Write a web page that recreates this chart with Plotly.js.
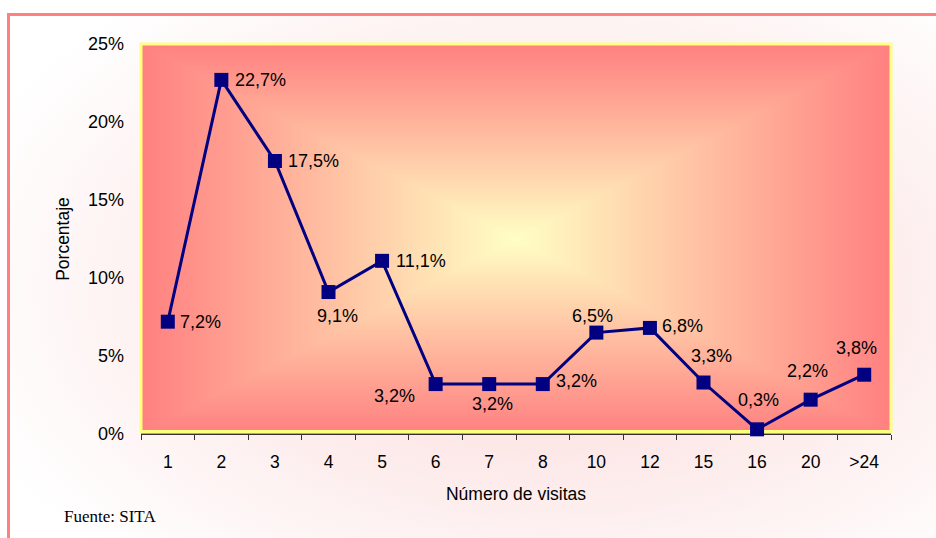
<!DOCTYPE html>
<html>
<head>
<meta charset="utf-8">
<script src="https://cdn.plot.ly/plotly-3.0.1.min.js"></script>
<style>
html,body{margin:0;padding:0;width:936px;height:538px;overflow:hidden;background:#ffffff;}
#bg{position:absolute;left:7px;top:13px;width:1000px;height:620px;box-sizing:border-box;
  border-top:3px solid #FF8080;border-left:3px solid #FF8080;
  background:radial-gradient(ellipse 62% 62% at 54% 44%, #fcd6d6 0%, #fde9e9 45%, #ffffff 100%);}
#chart{position:absolute;left:0;top:0;width:936px;height:538px;}
</style>
</head>
<body>
<div id="bg"></div>
<div id="chart"></div>
<script>
// ---- data ----
const categories = ['1','2','3','4','5','6','7','8','10','12','15','16','20','>24'];
const percentages = [7.2, 22.7, 17.5, 9.1, 11.1, 3.2, 3.2, 3.2, 6.5, 6.8, 3.3, 0.3, 2.2, 3.8];
const yTickValues = [0, 5, 10, 15, 20, 25];
const yTickLabels = ['0%', '5%', '10%', '15%', '20%', '25%'];
const xAxisTitle = 'Número de visitas';
const yAxisTitle = 'Porcentaje';
const sourceNote = 'Fuente: SITA';

// ---- label placement (px offsets from each marker) ----
const labelOffsets = [[33,0],[39.5,0],[39,0],[9,-24],[39,0],[-41,-12],[3,-20],[34,3],[-4,17],[33,2],[8,27],[1.5,29],[-3,29],[-8,27]];

function fmt(v){ return v.toFixed(1).replace('.', ',') + '%'; }

function rectGradient(w, h, c0, c1){
  const cv = document.createElement('canvas');
  cv.width = w; cv.height = h;
  const ctx = cv.getContext('2d');
  const img = ctx.createImageData(w, h);
  const hw = w/2, hh = h/2;
  for (let y = 0; y < h; y++){
    for (let x = 0; x < w; x++){
      let t = Math.max(Math.abs(x + 0.5 - hw)/hw, Math.abs(y + 0.5 - hh)/hh);
      t = Math.min(1, t);
      const i = (y*w + x)*4;
      img.data[i]   = Math.round(c0[0] + (c1[0]-c0[0])*t);
      img.data[i+1] = Math.round(c0[1] + (c1[1]-c0[1])*t);
      img.data[i+2] = Math.round(c0[2] + (c1[2]-c0[2])*t);
      img.data[i+3] = 255;
    }
  }
  ctx.putImageData(img, 0, 0);
  return cv.toDataURL('image/png');
}

const font = 'Liberation Sans, Arial, sans-serif';
const plotBg = rectGradient(750, 390, [255,255,196], [255,128,128]);

const trace = {
  x: categories,
  y: percentages,
  type: 'scatter',
  mode: 'lines+markers',
  line: {color: '#000080', width: 3},
  marker: {symbol: 'square', size: 14, color: '#000080'},
  hoverinfo: 'none',
  cliponaxis: false
};

// category axis: annotations use the category index as x
const annotations = percentages.map((v, i) => ({
  x: i, y: v, xref: 'x', yref: 'y',
  text: fmt(v), showarrow: false,
  xshift: labelOffsets[i][0], yshift: labelOffsets[i][1],
  xanchor: 'center', yanchor: 'middle',
  font: {family: font, size: 18, color: '#000000'}
}));
annotations.push({
  xref: 'paper', yref: 'paper', x: (62-141)/750, y: (434-516)/390,
  xanchor: 'left', yanchor: 'middle', showarrow: false,
  text: sourceNote,
  font: {family: 'Liberation Serif, Times New Roman, serif', size: 17, color: '#000000'}
});

const layout = {
  width: 936, height: 538,
  margin: {l: 141, r: 45, t: 44, b: 104, pad: 0},
  paper_bgcolor: 'rgba(0,0,0,0)',
  plot_bgcolor: 'rgba(0,0,0,0)',
  showlegend: false,
  font: {family: font, size: 18, color: '#000000'},
  xaxis: {
    type: 'category',
    range: [-0.5, categories.length - 0.5],
    tickson: 'boundaries',
    ticks: 'outside', ticklen: 5, tickwidth: 1, tickcolor: '#333333',
    showline: true, linecolor: '#333333', linewidth: 1,
    showgrid: false, zeroline: false,
    ticklabelstandoff: 12,
    tickfont: {family: font, size: 17.5, color: '#000000'},
    title: {text: xAxisTitle, font: {family: font, size: 17.5, color: '#000000'}, standoff: 16},
    layer: 'below traces',
    fixedrange: true
  },
  yaxis: {
    range: [0, 25],
    tickvals: yTickValues, ticktext: yTickLabels,
    ticks: '', showline: false, showgrid: false, zeroline: false,
    ticklabelstandoff: 16,
    tickfont: {family: font, size: 18, color: '#000000'},
    title: {text: yAxisTitle, font: {family: font, size: 17.5, color: '#000000'}, standoff: 13},
    fixedrange: true
  },
  images: [{
    source: plotBg, xref: 'paper', yref: 'paper',
    x: 0, y: 1, sizex: 1, sizey: 1, xanchor: 'left', yanchor: 'top',
    sizing: 'stretch', layer: 'below'
  }],
  shapes: [{
    type: 'rect', xref: 'paper', yref: 'paper',
    x0: 0, x1: 1, y0: 0.0065, y1: 1,
    line: {color: '#FFFF80', width: 3},
    layer: 'below'
  }],
  annotations: annotations
};

Plotly.newPlot('chart', [trace], layout, {displayModeBar: false, staticPlot: true});
</script>
</body>
</html>
